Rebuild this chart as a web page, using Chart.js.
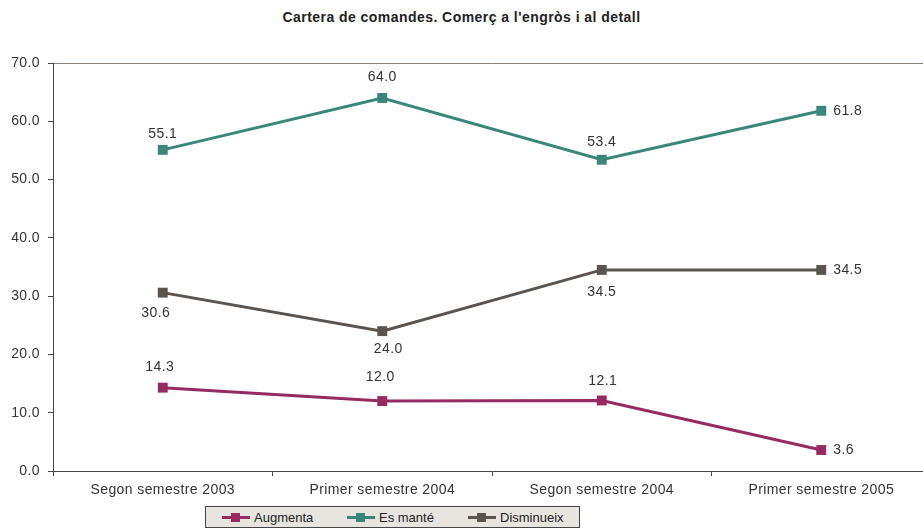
<!DOCTYPE html>
<html lang="ca">
<head>
  <meta charset="UTF-8">
  <title>Cartera de comandes</title>
  <script src="https://cdn.jsdelivr.net/npm/chart.js@4.4.0/dist/chart.umd.min.js"></script>
  <style>
    html, body { margin: 0; padding: 0; background: #fff; overflow: hidden; }
    body { width: 923px; height: 529px; position: relative; font-family: "Liberation Sans", Arial, sans-serif; }
    .title {
      position: absolute; top: 9px; left: 0; width: 923px; text-align: center;
      font-weight: bold; font-size: 14px; letter-spacing: 0.45px; color: #222;
    }
    .chart-box { position: absolute; left: 0; top: 0; width: 938px; height: 500px; }
    .legend {
      position: absolute; left: 205px; top: 506px; width: 375px; height: 22px;
      background: #e8e5e1; border: 1px solid #444; box-sizing: border-box;
      font-size: 13px; color: #222;
    }
    .legend .item { display: flex; align-items: center; position: absolute; top: 3px; }
    .legend .mark { position: relative; width: 28px; height: 14px; margin-right: 4px; }
    .legend .mark .ln { position: absolute; left: 0; right: 0; top: 5px; height: 3px; }
    .legend .mark .sq { position: absolute; left: 9px; top: 2px; width: 9px; height: 9px; }
  </style>
</head>
<body>
  <div class="title">Cartera de comandes. Comerç a l'engròs i al detall</div>
  <div class="chart-box"><canvas id="c"></canvas></div>
  <div class="legend" id="legend"></div>

  <script>
    const categories = ['Segon semestre 2003', 'Primer semestre 2004', 'Segon semestre 2004', 'Primer semestre 2005'];
    const augmenta = [14.3, 12.0, 12.1, 3.6];
    const esMante = [55.1, 64.0, 53.4, 61.8];
    const disminueix = [30.6, 24.0, 34.5, 34.5];
    const yTicks = [0, 10, 20, 30, 40, 50, 60, 70];

    // value label offsets from each point [dx, dy, align]
    const augmentaLbl = [[-3, -21, 'center'], [-2, -24, 'center'], [1, -19, 'center'], [12, 0, 'left']];
    const esManteLbl = [[0, -16, 'center'], [0, -21, 'center'], [0, -18, 'center'], [12, 0, 'left']];
    const disminueixLbl = [[-7, 20, 'center'], [6, 18, 'center'], [0, 22, 'center'], [12, 0, 'left']];

    const colors = { augmenta: '#952b60', esMante: '#3a8679', disminueix: '#5a534e' };
    const FONT = '"Liberation Sans", Arial, sans-serif';

    const spacing = {
      id: 'spacing',
      beforeDraw(chart) { chart.ctx.letterSpacing = '0.4px'; }
    };

    const valueLabels = {
      id: 'valueLabels',
      afterDatasetsDraw(chart) {
        const ctx = chart.ctx;
        ctx.save();
        ctx.font = '14px ' + FONT;
        ctx.fillStyle = '#333';
        ctx.textBaseline = 'middle';
        chart.data.datasets.forEach((ds, i) => {
          chart.getDatasetMeta(i).data.forEach((pt, j) => {
            const [dx, dy, align] = ds.labelOffsets[j];
            ctx.textAlign = align;
            ctx.fillText(ds.data[j].toFixed(1), pt.x + dx, pt.y + dy);
          });
        });
        ctx.restore();
      }
    };

    const mk = (label, data, color, labelOffsets) => ({
      label, data, labelOffsets,
      borderColor: color, backgroundColor: color,
      borderWidth: 3, tension: 0,
      pointStyle: 'rect', pointRadius: 7, pointHoverRadius: 7,
      pointBorderWidth: 0
    });

    const chart = new Chart(document.getElementById('c'), {
      type: 'line',
      data: {
        labels: categories,
        datasets: [
          mk('Augmenta', augmenta, colors.augmenta, augmentaLbl),
          mk('Es manté', esMante, colors.esMante, esManteLbl),
          mk('Disminueix', disminueix, colors.disminueix, disminueixLbl)
        ]
      },
      options: {
        responsive: true,
        maintainAspectRatio: false,
        animation: false,
        layout: { padding: { top: 63, right: 1, left: 0, bottom: 0 } },
        plugins: { legend: { display: false }, tooltip: { enabled: false }, title: { display: false } },
        scales: {
          x: {
            type: 'category',
            offset: true,
            grid: { offset: true, drawOnChartArea: false, tickLength: 5, tickColor: '#444' },
            border: { color: '#444', width: 1 },
            ticks: { color: '#333', font: { size: 14, family: FONT }, padding: 6, maxRotation: 0 },
            afterFit: s => { s.height = 29; }
          },
          y: {
            min: 0, max: 70,
            afterBuildTicks: s => { s.ticks = yTicks.map(v => ({ value: v })); },
            grid: {
              color: c => (c.tick && c.tick.value === 70) ? '#8c837d' : 'transparent',
              tickLength: 5, tickColor: '#444'
            },
            border: { color: '#444', width: 1 },
            ticks: {
              color: '#333', padding: 8,
              font: { size: 14, family: FONT },
              callback: v => Number(v).toFixed(1)
            },
            afterFit: s => { s.width = 53; }
          }
        }
      },
      plugins: [spacing, valueLabels]
    });

    // legend built from the datasets
    const legendEl = document.getElementById('legend');
    const itemLeft = [16, 141, 262];
    chart.data.datasets.forEach((ds, i) => {
      const item = document.createElement('div');
      item.className = 'item';
      item.style.left = itemLeft[i] + 'px';
      item.innerHTML = '<span class="mark"><span class="ln" style="background:' + ds.borderColor +
        '"></span><span class="sq" style="background:' + ds.borderColor + '"></span></span><span>' + ds.label + '</span>';
      legendEl.appendChild(item);
    });
  </script>
</body>
</html>
